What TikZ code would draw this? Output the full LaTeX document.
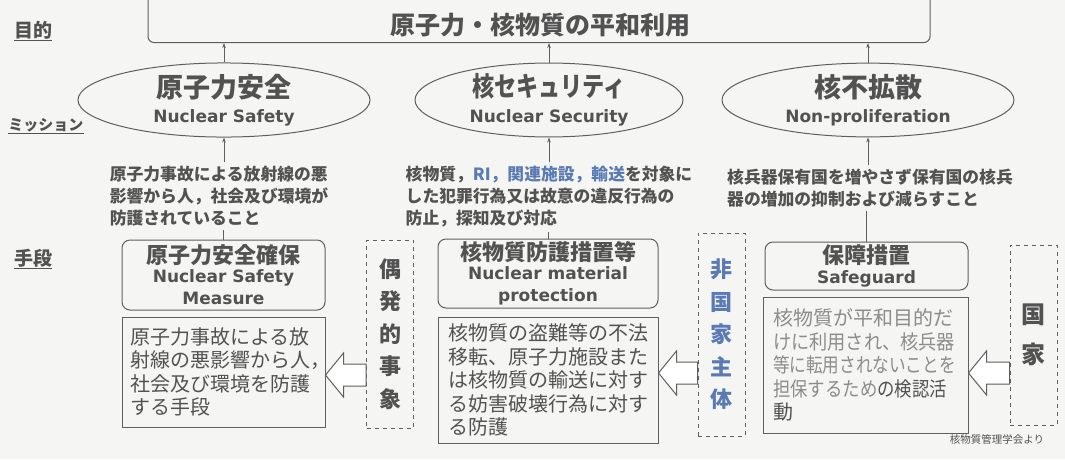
\documentclass[tikz,border=0pt]{standalone}
\usepackage{fontspec}
\usepackage{xcolor}
\usepackage{tikz}
\setmainfont{DejaVu Sans}
\newfontfamily\jp{Noto Sans CJK JP}
\usetikzlibrary{shapes.geometric,arrows.meta,calc}

\definecolor{bgc}{RGB}{245,245,243}
\definecolor{txt}{RGB}{82,82,82}
\definecolor{ln}{RGB}{95,95,95}
\definecolor{lighttxt}{RGB}{140,140,140}
\definecolor{blt}{RGB}{90,122,180}

\tikzset{
  goalbox/.style={draw=ln, line width=1pt, rounded corners=6pt, minimum width=782pt, minimum height=60pt},
  mission/.style={ellipse, draw=ln, line width=1pt, minimum width=292pt, minimum height=64pt, inner sep=0pt, align=center, text=txt, font=\bfseries\fontsize{17}{25.5}\selectfont},
  aimtext/.style={align=left, text=txt, inner xsep=0pt, inner ysep=4pt, font=\jp\bfseries\fontsize{16.8}{22}\selectfont},
  measure/.style={draw=ln, line width=1pt, rounded corners=8pt, minimum width=203pt, align=center, text=txt, inner sep=1pt, font=\bfseries\fontsize{17}{22.5}\selectfont},
  detail/.style={draw=ln, line width=1pt, align=left, text=txt, inner sep=0pt, font=\jp\fontsize{20}{23.5}\selectfont},
  actor/.style={draw=ln, line width=1pt, dash pattern=on 4pt off 4pt, minimum width=47pt, align=center, inner sep=0pt, font=\jp\bfseries\fontsize{22}{32.5}\selectfont},
  up/.style={draw=ln, line width=0.8pt, -{Stealth[length=5pt,width=3.5pt]}},
  plain/.style={draw=ln, line width=0.8pt},
  hollow/.style={draw=ln, line width=1pt, fill=white, line join=miter},
  level/.style={text=txt, font=\jp\bfseries\fontsize{19}{21}\selectfont}
}

% hollow block arrow: tip, tail
\newcommand{\hollowarrow}[2]{%
  \draw[hollow] (#1) -- ($(#1)+(18,-22)$) -- ($(#1)+(18,-11)$) -- ($(#2)+(0,-11)$)
    -- ($(#2)+(0,11)$) -- ($(#1)+(18,11)$) -- ($(#1)+(18,22)$) -- cycle;}
% japanese title inside a mission / measure
\newcommand{\jtitle}[2]{{\jp\fontsize{#1}{#1}\selectfont #2}}

\begin{document}
\begin{tikzpicture}[x=1pt,y=-1pt]
        \path[use as bounding box, fill=bgc] (0,0) rectangle (1065,459);

        % levels
        \node[level] (lvlgoal) at (33,31) {\underline{目的}};
        \node[level, font=\jp\bfseries\fontsize{15}{16}\selectfont] (lvlmission) at (46,126) {\underline{ミッション}};
        \node[level] (lvlmeans) at (33,259) {\underline{手段}};

        % goal
        \node[goalbox, anchor=south] (goal) at (539,43) {};
        \node[text=txt, font=\jp\bfseries\fontsize{25}{28}\selectfont] (goaltext) at (540,25) {原子力・核物質の平和利用};

        % missions
        \node[mission] (ellS) at (224,100) {\jtitle{27}{原子力安全}\\Nuclear Safety};
        \node[mission, minimum width=268pt] (ellC) at (549,100) {\jtitle{27}{\scalebox{0.82}[1]{核セキュリティ}}\\Nuclear Security};
        \node[mission] (ellN) at (868,100) {\jtitle{27}{核不拡散}\\Non-proliferation};

        % aims
        \node[aimtext] (aimS) at (219,196) {原子力事故による放射線の悪\\影響から人，社会及び環境が\\防護されていること};
        \node[aimtext] (aimC) at (549,197) {核物質，{\color{blt}RI，関連施設，輸送}を対象に\\した犯罪行為又は故意の違反行為の\\防止，探知及び対応};
        \node[aimtext] (aimN) at (870,188) {核兵器保有国を増やさず保有国の核兵\\器の増加の抑制および減らすこと};

        % measures
        \node[measure, minimum height=70pt] (msS) at (223.5,275) {\raisebox{-4pt}{\jtitle{22}{原子力安全確保}}\\Nuclear Safety\\Measure};
        \node[measure, minimum width=220pt, minimum height=69pt] (msC) at (548,273.5) {\raisebox{-4pt}{\jtitle{22}{核物質防護措置等}}\\Nuclear material\\protection};
        \node[measure, minimum height=48pt] (msN) at (866.5,266) {\raisebox{-2pt}{\jtitle{22}{保障措置}}\\Safeguard};

        % details
        \node[detail, minimum width=203pt, minimum height=110pt, text width=186pt] (dtS) at (223.5,372) {原子力事故による放\\射線の悪影響から人，\\社会及び環境を防護\\する手段};
        \node[detail, minimum width=220pt, minimum height=126pt, text width=200pt] (dtC) at (548,380) {核物質の盗難等の不法\\移転、原子力施設また\\は核物質の輸送に対す\\る妨害破壊行為に対す\\る防護};
        \node[detail, text=lighttxt, minimum width=205pt, minimum height=136pt, text width=185pt] (dtN) at (865.5,365) {核物質が平和目的だ\\\scalebox{0.91}[1]{けに利用され、核兵器}\\\scalebox{0.83}[1]{等に転用されないことを}\\\scalebox{0.87}[1]{担保するため{\color{txt}の検認活}}\\{\color{txt}動}};

        % actors
        \node[actor, minimum height=188pt, text=txt] (acS) at (390,334) {偶\\発\\的\\事\\象};
        \node[actor, minimum height=203pt, text=blt] (acC) at (721.5,334.5) {非\\国\\家\\主\\体};
        \node[actor, minimum height=180pt, text=txt, font=\jp\bfseries\fontsize{24}{40}\selectfont] (acN) at (1033.5,335) {国\\家};

        % connectors
        \draw[up] (ellS.north) -- (ellS.north |- goal.south);
        \draw[up] (ellC.north) -- (ellC.north |- goal.south);
        \draw[up] (ellN.north) -- (ellN.north |- goal.south);
        \draw[up] (ellS.south |- aimS.north) -- (ellS.south);
        \draw[up] (ellC.south |- aimC.north) -- (ellC.south);
        \draw[up] (ellN.south |- aimN.north) -- (ellN.south);
        \draw[plain] (msS.north |- aimS.south) -- (msS.north);
        \draw[plain] (msC.north |- aimC.south) -- (msC.north);
        \draw[plain] (msN.north |- aimN.south) -- (msN.north);

        % block arrows
        \coordinate (tipS) at (dtS.east |- 0,375);
        \coordinate (tailS) at (acS.west |- 0,375);
        \coordinate (tipC) at (dtC.east |- 0,373);
        \coordinate (tailC) at (acC.west |- 0,373);
        \coordinate (tipN) at (dtN.east |- 0,373);
        \coordinate (tailN) at (acN.west |- 0,373);
        \hollowarrow{tipS}{tailS}
        \hollowarrow{tipC}{tailC}
        \hollowarrow{tipN}{tailN}

        % source
        \node[text=txt, font=\jp\fontsize{10.5}{12}\selectfont] (source) at (997,439) {核物質管理学会より};
\end{tikzpicture}
\end{document}
